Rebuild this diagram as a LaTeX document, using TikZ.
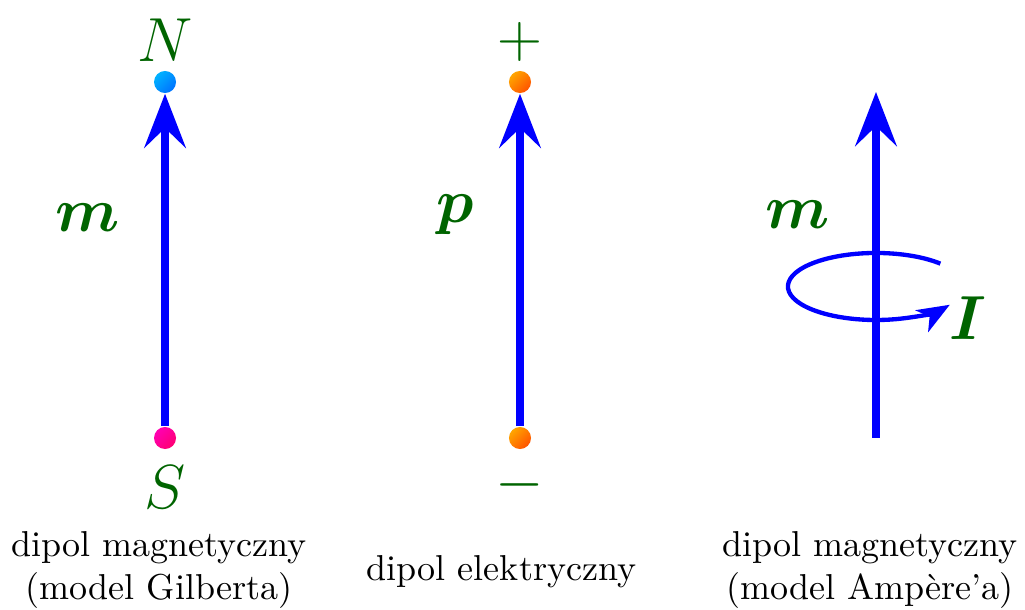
\documentclass[tikz,border=0pt]{standalone}
\usepackage{amsmath,amssymb}
\usepackage{xcolor}
\usepackage{tikz}
\usetikzlibrary{positioning, arrows.meta, shadings}

\definecolor{labgreen}{RGB}{0,100,0}

\begin{document}
\begin{tikzpicture}[
  dot/.style={circle, inner sep=0pt, minimum size=0.215cm, shading angle=45},
  lab/.style={text=labgreen, font=\LARGE},
  vec/.style={-{Stealth[length=15pt, width=11.5pt, inset=5.5pt]},
              line width=2.2pt, blue},
  curr/.style={-{Stealth[length=9pt, width=7pt, inset=2.5pt]},
               line width=1.2pt, blue},
  captxt/.style={align=center, font=\normalsize}
]
  \useasboundingbox (0,0) rectangle (10,5.951);

  % magnetic dipol (Gilbert)
  \node[dot, top color=cyan!70!blue, bottom color=cyan!45!blue, shading angle=45]
    (N) at (1.61,5.151) {};
  \node[dot, top color=magenta!70!red, bottom color=magenta!45!red, shading angle=45]
    (S) at (1.61,1.678) {};
  \node[lab] (Nlab) at (1.61,5.561) {$N$};
  \node[lab] (Slab) at (1.61,1.20)  {$S$};
  \node[lab] (m1)   at (0.859,3.824) {$\boldsymbol{m}$};
  \draw[vec] (S) -- (N);

  % electric dipol
  \node[dot, top color=orange!70!yellow, bottom color=orange!65!red, shading angle=45]
    (plus)  at (5.073,5.151) {};
  \node[dot, top color=orange!70!yellow, bottom color=orange!65!red, shading angle=45]
    (minus) at (5.073,1.678) {};
  \node[lab] (pluslab)  at (5.073,5.54) {$+$};
  \node[lab] (minuslab) at (5.073,1.22) {$-$};
  \node[lab] (p)        at (4.439,3.854) {$\boldsymbol{p}$};
  \draw[vec] (minus) -- (plus);

  % magnetic dipol (Ampere)
  \coordinate (bot)  at (8.546,1.678);
  \coordinate (top)  at (8.546,5.054);
  \coordinate (loop) at (8.546,3.156);
  \draw[curr] ([shift={(43:0.859 and 0.327)}]loop)
    arc[start angle=43, end angle=327, x radius=0.859, y radius=0.327];
  \draw[vec] (bot) -- (top);
  \node[lab] (m2) at (7.785,3.854) {$\boldsymbol{m}$};
  \node[lab] (I)  at (9.444,2.849) {$\boldsymbol{I}$};

  % captions
  \node[captxt] (gilb) at (1.551,0.39)  {dipol magnetyczny\\(model Gilberta)};
  \node[captxt] (elek) at (4.893,0.371) {dipol elektryczny};
  \node[captxt] (amp)  at (8.488,0.39)  {dipol magnetyczny\\(model Amp\`ere'a)};
\end{tikzpicture}
\end{document}
